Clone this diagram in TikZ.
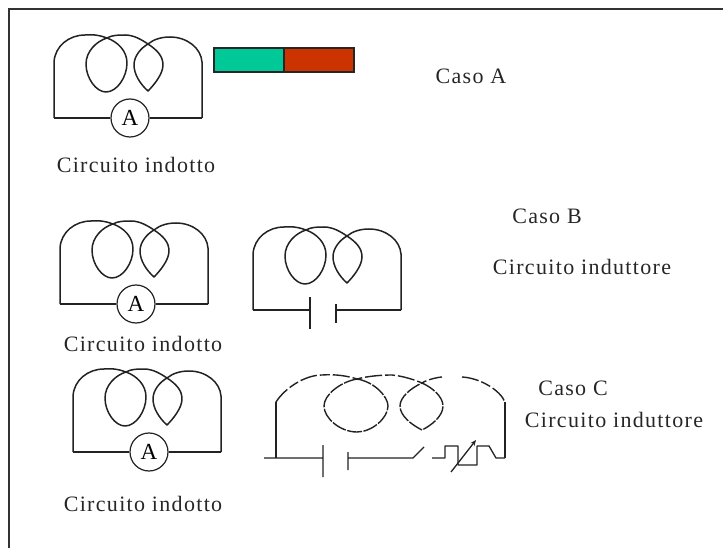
\documentclass[tikz,border=0pt]{standalone}
\usepackage{fontspec}
\setmainfont[LetterSpace=6]{Liberation Serif}
\usetikzlibrary{arrows.meta}
\definecolor{wire}{HTML}{222222}
\definecolor{tealbar}{HTML}{00C896}
\definecolor{redbar}{HTML}{CC3300}
\tikzset{
  x=1pt,y=-1pt,
  wireline/.style={draw=wire,line width=1.3pt,line join=round},
  thickwire/.style={draw=wire,line width=2.2pt},
  coilline/.style={wireline,line width=1.5pt},
  brokenline/.style={coilline,line width=1.4pt,dash pattern=on 17pt off 3pt on 10pt off 3pt},
  loopline/.style={coilline,line width=1.4pt,dash pattern=on 15pt off 1.5pt},
  label/.style={inner sep=0pt,font=\fontsize{22}{26}\selectfont,text=black!85},
  meter/.style={circle,draw=wire,line width=1.2pt,minimum size=38pt,inner sep=0pt,fill=white,font=\fontsize{23}{26}\selectfont},
  bar/.style={draw=black!85,line width=1.5pt,minimum width=70pt,minimum height=24pt,inner sep=0pt},
  coil/.pic={
    \coordinate (-bl) at (0,0);
    \coordinate (-br) at (148,0);
    \path[coilline] (0,0) -- (0,-56)
      .. controls (1,-72) and (15,-83) .. (31,-83)
      .. controls (40,-84) and (48,-82) .. (53,-80)
      .. controls (64,-76) and (73,-67) .. (73,-55)
      .. controls (73,-41) and (63,-26) .. (52,-26)
      .. controls (42,-26) and (32,-40) .. (32,-54)
      .. controls (32,-67) and (43,-77) .. (53,-80)
      .. controls (58,-83) and (65,-83) .. (71,-83)
      .. controls (80,-83) and (88,-78) .. (94,-74)
      .. controls (103,-68) and (109,-62) .. (109,-53)
      .. controls (109,-44) and (100,-33) .. (94,-27)
      .. controls (86,-34) and (80,-44) .. (80,-53)
      .. controls (80,-62) and (87,-70) .. (94,-74)
      .. controls (100,-79) and (108,-81) .. (116,-81)
      .. controls (133,-81) and (147,-70) .. (148,-56)
      -- (148,0);
  }
}
\begin{document}
\begin{tikzpicture}
\useasboundingbox (0,0) rectangle (723,548);
% frame
\draw[line width=2pt,draw=black!80] (9,548) -- (9,9.5) -- (723,9.5);
% case A
\pic (ca) at (54,118) {coil};
\node[meter] (ma) at (130,118) {A};
\draw[wireline] (ca-bl) -- (ma) (ma) -- (ca-br);
\node[label] (ta) at (136,165) {Circuito indotto};
\node[bar,fill=tealbar] (g) at (249,60) {};
\node[bar,fill=redbar] (r) at (319,60) {};
\node[label] (casoa) at (471,76) {Caso A};
% case B
\pic (cb) at (60,304) {coil};
\node[meter] (mb) at (136,304) {A};
\draw[wireline] (cb-bl) -- (mb) (mb) -- (cb-br);
\node[label] (tb) at (143,344) {Circuito indotto};
\pic (cbb) at (253,310) {coil};
\coordinate (p1t) at (310,297);
\coordinate (p1b) at (310,329);
\coordinate (p1m) at (310,310);
\coordinate (p2t) at (336,304);
\coordinate (p2b) at (336,323);
\coordinate (p2m) at (336,310);
\draw[wireline] (cbb-bl) -- (p1m) (p1t) -- (p1b) (p2t) -- (p2b) (p2m) -- (cbb-br);
\node[label] (casob) at (547,216) {Caso B};
\node[label] (ib) at (582,267) {Circuito induttore};
% case C
\pic (cc) at (73,452) {coil};
\node[meter] (mc) at (149,452) {A};
\draw[wireline] (cc-bl) -- (mc) (mc) -- (cc-br);
\node[label] (tc) at (143,504) {Circuito indotto};
\node[label] (casoc) at (573,388) {Caso C};
\node[label] (ic) at (614,420) {Circuito induttore};
% inducing circuit of case C
\coordinate (lead) at (264,458);
\coordinate (corner) at (276,458);
\coordinate (q1t) at (323,445);
\coordinate (q1b) at (323,477);
\coordinate (q1m) at (323,458);
\coordinate (q2t) at (348,452);
\coordinate (q2b) at (348,470);
\coordinate (q2m) at (348,458);
\coordinate (swa) at (413,458);
\coordinate (swb) at (424,447);
\coordinate (rs) at (432,458);
\coordinate (re) at (505,458);
\coordinate (ra) at (451,472);
\coordinate (rb) at (476,440);
\coordinate (up) at (505,402);
\coordinate (ul) at (276,402);
\draw[wireline] (lead) -- (q1m) (q1t) -- (q1b) (q2t) -- (q2b) (q2m) -- (swa) -- (swb);
\draw[wireline] (corner) -- (ul);
\draw[wireline] (rs) -- (445,458) -- (445,446) -- (458,446) -- (458,465) -- (477,465) -- (477,446) -- (489,446) -- (496,458) -- (re);
\draw[thickwire] (re) -- (up);
\draw[wireline,-{Stealth[length=6pt,width=5pt]}] (ra) -- (rb);
\draw[brokenline] (ul) .. controls (285,388) and (305,375) .. (322,375)
  .. controls (335,374) and (348,376) .. (357,379)
  .. controls (368,376) and (382,375) .. (392,375)
  .. controls (403,376) and (415,380) .. (422,383)
  .. controls (428,379) and (440,377) .. (442,377);
\draw[brokenline] (462,377) .. controls (480,378) and (500,390) .. (up);
\draw[loopline] (357,379) .. controls (375,382) and (388,397) .. (388,406)
  .. controls (388,418) and (372,432) .. (357,432)
  .. controls (340,432) and (324,418) .. (324,406)
  .. controls (324,395) and (340,382) .. (357,379);
\draw[loopline] (422,383) .. controls (433,388) and (443,397) .. (443,406)
  .. controls (443,416) and (432,425) .. (422,430)
  .. controls (412,425) and (400,416) .. (400,406)
  .. controls (400,397) and (411,388) .. (422,383);
\end{tikzpicture}
\end{document}
